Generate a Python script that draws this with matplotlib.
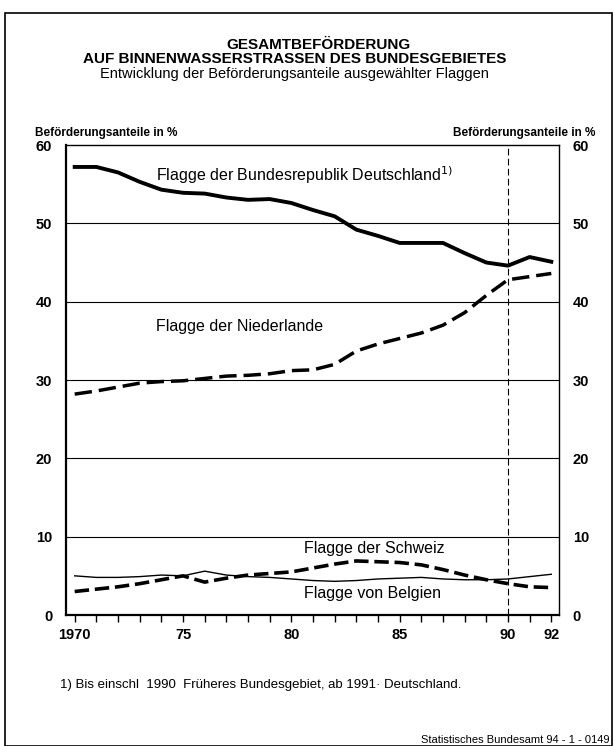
#!/usr/bin/env python3
import matplotlib
matplotlib.use("Agg")
import matplotlib.pyplot as plt
from matplotlib.patches import Rectangle

plt.rcParams['font.family'] = ['Liberation Sans', 'DejaVu Sans']

years = list(range(1970, 1993))
deutschland = [57.2, 57.2, 56.5, 55.3, 54.3, 53.9, 53.8, 53.3, 53.0, 53.1, 52.6,
               51.7, 50.9, 49.2, 48.4, 47.5, 47.5, 47.5, 46.2, 45.0, 44.6, 45.7, 45.1]
niederlande = [28.2, 28.6, 29.1, 29.6, 29.8, 29.9, 30.2, 30.5, 30.6, 30.8, 31.2,
               31.3, 32.0, 33.7, 34.6, 35.3, 36.0, 37.0, 38.6, 40.8, 42.8, 43.2, 43.6]
schweiz = [3.0, 3.3, 3.6, 4.0, 4.5, 5.0, 4.2, 4.7, 5.1, 5.3, 5.5,
           6.0, 6.5, 6.9, 6.8, 6.7, 6.4, 5.8, 5.1, 4.5, 4.0, 3.6, 3.5]
belgien = [5.0, 4.8, 4.8, 4.9, 5.1, 5.0, 5.6, 5.1, 4.9, 4.8, 4.6,
           4.4, 4.3, 4.4, 4.6, 4.7, 4.8, 4.6, 4.5, 4.5, 4.6, 4.9, 5.2]
xtick_pos = [1970, 1975, 1980, 1985, 1990, 1992]
xtick_lab = ["1970", "75", "80", "85", "90", "92"]
ytick_pos = [0, 10, 20, 30, 40, 50, 60]

fig = plt.figure(figsize=(6.13, 7.46), dpi=100)
fig.patches.append(Rectangle((0.008, 0.0), 0.99, 0.982, transform=fig.transFigure,
                             fill=False, edgecolor='black', lw=1.2))

ax = fig.add_axes([0.1077, 0.1756, 0.804, 0.630])
for y in [10, 20, 30, 40, 50]:
    ax.axhline(y, color='black', lw=0.8, zorder=1)
ax.axvline(1990, color='black', lw=0.8, dashes=(6, 3), zorder=1)

ax.plot(years, belgien, color='black', lw=1.0, zorder=3)
ax.plot(years, schweiz, color='black', lw=2.6, dashes=(4, 1.6), zorder=3)
ax.plot(years, niederlande, color='black', lw=2.5, dashes=(5, 2), zorder=3)
ax.plot(years, deutschland, color='black', lw=2.8, zorder=3)

ax.set_xlim(1969.6, 1992.35)
ax.set_ylim(0, 60)
ax.set_xticks(years, minor=True)
ax.set_xticks(xtick_pos)
ax.set_xticklabels(xtick_lab, fontweight='bold', fontsize=10.5)
ax.set_yticks(ytick_pos)
ax.set_yticklabels([str(v) for v in ytick_pos], fontweight='bold', fontsize=10.5)
ax.tick_params(axis='x', which='both', direction='out', length=5, width=1, pad=4)
ax.tick_params(axis='y', length=0, pad=10, labelright=True, labelleft=True)
for s in ['left', 'bottom']:
    ax.spines[s].set_linewidth(1.6)
for s in ['top', 'right']:
    ax.spines[s].set_linewidth(1.0)

ax.text(1973.75, 55.4, "Flagge der Bundesrepublik Deutschland$^{1)}$", fontsize=11.5)
ax.text(1973.75, 36.2, "Flagge der Niederlande", fontsize=11.5)
ax.text(1980.6, 7.9, "Flagge der Schweiz", fontsize=11.5)
ax.text(1980.6, 2.2, "Flagge von Belgien", fontsize=11.5)

fig.text(0.057, 0.818, "Beförderungsanteile in %", fontsize=8.5, fontweight='bold')
fig.text(0.972, 0.818, "Beförderungsanteile in %", fontsize=8.5, fontweight='bold', ha='right')

fig.text(0.52, 0.934, "GESAMTBEFÖRDERUNG", fontsize=11, fontweight='bold', ha='center')
fig.text(0.48, 0.915, "AUF BINNENWASSERSTRASSEN DES BUNDESGEBIETES", fontsize=11,
         fontweight='bold', ha='center')
fig.text(0.48, 0.896, "Entwicklung der Beförderungsanteile ausgewählter Flaggen",
         fontsize=10.5, ha='center')

fig.text(0.098, 0.078, "1) Bis einschl  1990  Früheres Bundesgebiet, ab 1991· Deutschland.",
         fontsize=9.5)
fig.text(0.995, 0.004, "Statistisches Bundesamt 94 - 1 - 0149", fontsize=8, ha='right')

fig.savefig("out.png", dpi=100)
